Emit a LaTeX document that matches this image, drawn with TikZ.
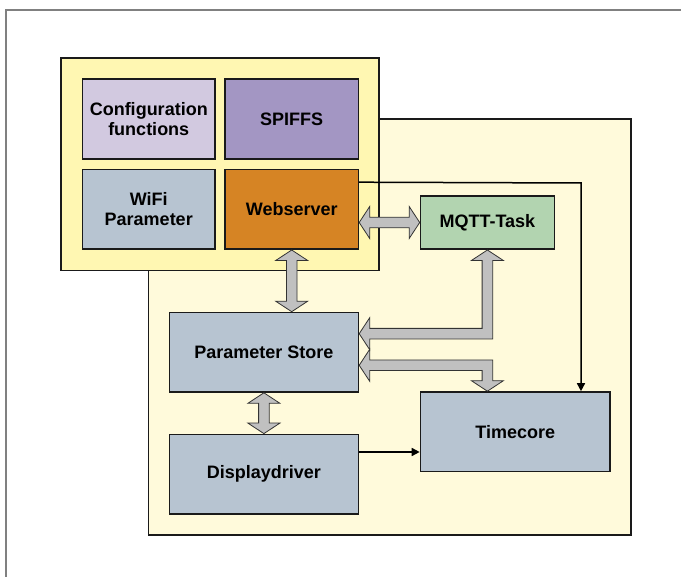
\documentclass[tikz,border=0pt]{standalone}
\usepackage{fontspec}
\setmainfont{Liberation Sans}
\usetikzlibrary{calc,arrows.meta}
\definecolor{frameGray}{HTML}{808080}
\definecolor{yelUp}{HTML}{FFF7B2}
\definecolor{yelLow}{HTML}{FFFADB}
\definecolor{cfgCol}{HTML}{D2C9E0}
\definecolor{spiCol}{HTML}{A396C3}
\definecolor{bluCol}{HTML}{B7C4D1}
\definecolor{webCol}{HTML}{D68424}
\definecolor{mqCol}{HTML}{B2D4B0}
\definecolor{arrCol}{HTML}{C0C0C0}
\definecolor{lineCol}{HTML}{1A1A1A}
\tikzset{
  container/.style={draw=lineCol, line width=1.6pt, inner sep=0pt},
  blockbox/.style={draw=lineCol, line width=1.6pt, inner sep=0pt, align=center,
    font=\fontsize{18}{20}\selectfont\bfseries},
  bigarrow/.style={draw=black!80, fill=arrCol, line width=0.8pt, line join=miter},
  thinarrow/.style={draw=black, line width=1.5pt, -{Triangle[length=8pt,width=8pt]}}
}
\def\hh{16pt}
\def\ss{5.3pt}
\def\LL{10.5pt}
\newcommand\vdarrow[2]{%
  \draw[bigarrow] let \p1=(#1), \p2=(#2) in
    (\x1,\y1) -- (\x1+\hh,\y1-\LL) -- (\x1+\ss,\y1-\LL) -- (\x1+\ss,\y2+\LL)
    -- (\x1+\hh,\y2+\LL) -- (\x1,\y2) -- (\x1-\hh,\y2+\LL) -- (\x1-\ss,\y2+\LL)
    -- (\x1-\ss,\y1-\LL) -- (\x1-\hh,\y1-\LL) -- cycle;}
\newcommand\hdarrow[2]{%
  \draw[bigarrow] let \p1=(#1), \p2=(#2) in
    (\x1,\y1) -- (\x1+\LL,\y1+\hh) -- (\x1+\LL,\y1+\ss) -- (\x2-\LL,\y1+\ss)
    -- (\x2-\LL,\y1+\hh) -- (\x2,\y1) -- (\x2-\LL,\y1-\hh) -- (\x2-\LL,\y1-\ss)
    -- (\x1+\LL,\y1-\ss) -- (\x1+\LL,\y1-\hh) -- cycle;}
\begin{document}
\begin{tikzpicture}[x=1pt,y=-1pt]
\useasboundingbox (0,0) rectangle (681,577);
\fill[white] (0,0) rectangle (681,577);
\coordinate (fbl) at (6,577);
\coordinate (ftl) at (6,10);
\coordinate (ftr) at (681,10);
\draw[frameGray, line width=2pt] (fbl) -- (ftl) -- (ftr);

% containers
\node[container, fill=yelLow, minimum width=482.1pt, minimum height=415.8pt] (lower) at (389.65,326.9) {};
\node[container, fill=yelUp, minimum width=318.2pt, minimum height=212.5pt] (upper) at (220.1,164.25) {};

% blocks
\node[blockbox, fill=cfgCol, minimum width=132.5pt, minimum height=80pt] (cfg) at (148.75,119) {Configuration\\functions};
\node[blockbox, fill=spiCol, minimum width=133.4pt, minimum height=80pt] (spi) at (291.7,119) {SPIFFS};
\node[blockbox, fill=bluCol, minimum width=132.5pt, minimum height=79.5pt] (wifi) at (148.75,209.45) {WiFi\\Parameter};
\node[blockbox, fill=webCol, minimum width=133.4pt, minimum height=79.5pt] (web) at (291.7,209.45) {Webserver};
\node[blockbox, fill=mqCol, minimum width=133.8pt, minimum height=53.4pt] (mqtt) at (487.4,222.5) {MQTT-Task};
\node[blockbox, fill=bluCol, minimum width=189pt, minimum height=79.5pt] (param) at (263.9,352.25) {Parameter Store};
\node[blockbox, fill=bluCol, minimum width=189pt, minimum height=79.5pt] (disp) at (263.9,474.15) {Displaydriver};
\node[blockbox, fill=bluCol, minimum width=189.5pt, minimum height=79.5pt] (tc) at (515.25,431.75) {Timecore};

% thin arrows
\coordinate (webout) at ($(web.north east)+(0,13.3)$);
\coordinate (bend) at (581,183);
\draw[thinarrow] (webout) -- (bend) -- (bend |- tc.north);
\coordinate (dispout) at ($(disp.north east)+(0,18.4)$);
\draw[thinarrow] (dispout) -- (dispout -| tc.west);

% big gray arrows
\hdarrow{web.east |- mqtt.west}{mqtt.west}
\vdarrow{web.south}{web.south |- param.north}
\vdarrow{param.south}{disp.north}

% elbow MQTT <-> Parameter Store
\draw[bigarrow] let \p1=(mqtt.south), \p2=($(param.east)+(0,-18.55)$) in
  (\x1,\y1) -- (\x1+\hh,\y1-\LL) -- (\x1+\ss,\y1-\LL) -- (\x1+\ss,\y2-\ss)
  -- (\x2+\LL,\y2-\ss) -- (\x2+\LL,\y2-\hh) -- (\x2,\y2) -- (\x2+\LL,\y2+\hh)
  -- (\x2+\LL,\y2+\ss) -- (\x1-\ss,\y2+\ss) -- (\x1-\ss,\y1-\LL)
  -- (\x1-\hh,\y1-\LL) -- cycle;

% elbow Parameter Store <-> Timecore
\draw[bigarrow] let \p1=($(param.east)+(0,13.05)$), \p2=(mqtt.south |- tc.north) in
  (\x1,\y1) -- (\x1+\LL,\y1+\hh) -- (\x1+\LL,\y1+\ss) -- (\x2+\ss,\y1+\ss)
  -- (\x2+\ss,\y2+\LL) -- (\x2+\hh,\y2+\LL) -- (\x2,\y2) -- (\x2-\hh,\y2+\LL)
  -- (\x2-\ss,\y2+\LL) -- (\x2-\ss,\y1-\ss) -- (\x1+\LL,\y1-\ss)
  -- (\x1+\LL,\y1-\hh) -- cycle;
\end{tikzpicture}
\end{document}
